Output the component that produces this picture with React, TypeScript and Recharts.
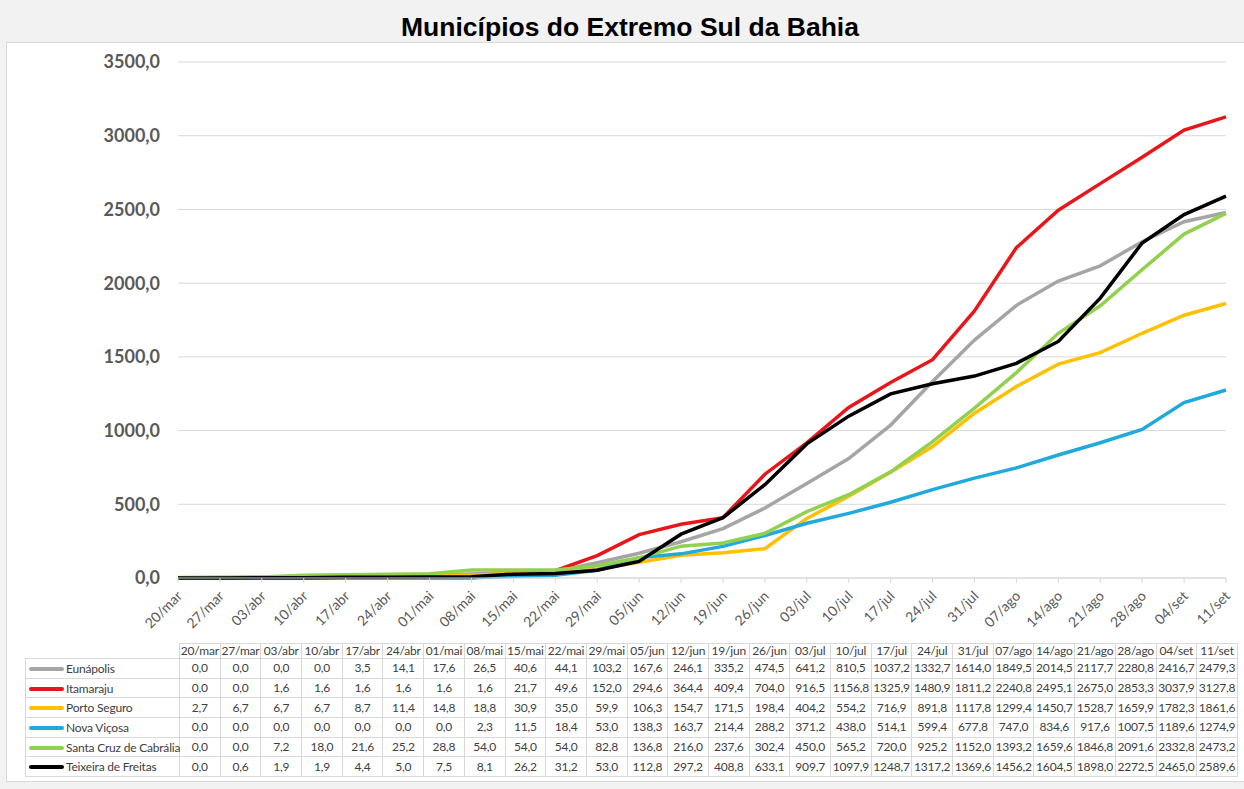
import { LineChart, Line, XAxis, YAxis, CartesianGrid } from 'recharts';

const dates = ['20/mar', '27/mar', '03/abr', '10/abr', '17/abr', '24/abr', '01/mai', '08/mai', '15/mai', '22/mai', '29/mai', '05/jun', '12/jun', '19/jun', '26/jun', '03/jul', '10/jul', '17/jul', '24/jul', '31/jul', '07/ago', '14/ago', '21/ago', '28/ago', '04/set', '11/set'];

const eunapolis = [0, 0, 0, 0, 3.5, 14.1, 17.6, 26.5, 40.6, 44.1, 103.2, 167.6, 246.1, 335.2, 474.5, 641.2, 810.5, 1037.2, 1332.7, 1614.0, 1849.5, 2014.5, 2117.7, 2280.8, 2416.7, 2479.3];
const itamaraju = [0, 0, 1.6, 1.6, 1.6, 1.6, 1.6, 1.6, 21.7, 49.6, 152.0, 294.6, 364.4, 409.4, 704.0, 916.5, 1156.8, 1325.9, 1480.9, 1811.2, 2240.8, 2495.1, 2675.0, 2853.3, 3037.9, 3127.8];
const portoSeguro = [2.7, 6.7, 6.7, 6.7, 8.7, 11.4, 14.8, 18.8, 30.9, 35.0, 59.9, 106.3, 154.7, 171.5, 198.4, 404.2, 554.2, 716.9, 891.8, 1117.8, 1299.4, 1450.7, 1528.7, 1659.9, 1782.3, 1861.6];
const novaVicosa = [0, 0, 0, 0, 0, 0, 0, 2.3, 11.5, 18.4, 53.0, 138.3, 163.7, 214.4, 288.2, 371.2, 438.0, 514.1, 599.4, 677.8, 747.0, 834.6, 917.6, 1007.5, 1189.6, 1274.9];
const santaCruz = [0, 0, 7.2, 18.0, 21.6, 25.2, 28.8, 54.0, 54.0, 54.0, 82.8, 136.8, 216.0, 237.6, 302.4, 450.0, 565.2, 720.0, 925.2, 1152.0, 1393.2, 1659.6, 1846.8, 2091.6, 2332.8, 2473.2];
const teixeira = [0, 0.6, 1.9, 1.9, 4.4, 5.0, 7.5, 8.1, 26.2, 31.2, 53.0, 112.8, 297.2, 408.8, 633.1, 909.7, 1097.9, 1248.7, 1317.2, 1369.6, 1456.2, 1604.5, 1898.0, 2272.5, 2465.0, 2589.6];

const yTicks = [0, 500, 1000, 1500, 2000, 2500, 3000, 3500];

const series = [
  { key: 'eun', name: 'Eunápolis', values: eunapolis, color: '#a5a5a5' },
  { key: 'ita', name: 'Itamaraju', values: itamaraju, color: '#e8161b' },
  { key: 'por', name: 'Porto Seguro', values: portoSeguro, color: '#ffc000' },
  { key: 'nov', name: 'Nova Viçosa', values: novaVicosa, color: '#1fa9dc' },
  { key: 'san', name: 'Santa Cruz de Cabrália', values: santaCruz, color: '#92d050' },
  { key: 'tei', name: 'Teixeira de Freitas', values: teixeira, color: '#000000' },
];

const data = dates.map((d, i) => {
  const row: Record<string, string | number> = { date: d };
  series.forEach((s) => { row[s.key] = s.values[i]; });
  return row;
});

const fmt = (v: number) => v.toFixed(1).replace('.', ',');

const FONT = 'Lato, "Open Sans", sans-serif';

const XTick = ({ x, y, payload }: any) => (
  <g transform={`translate(${x + 5},${y + 12})`}>
    <text x={0} y={0} textAnchor="end" transform="rotate(-45)" fontSize={14} fill="#595959" fontFamily={FONT}>
      {payload.value}
    </text>
  </g>
);

const cellBorder = '1px solid #d9d9d9';
const COLW = 40.7;

const App = () => {
  return (
    <div style={{ position: 'absolute', left: 0, top: 0, width: 1244, height: 789, background: '#f2f2f2', overflow: 'hidden' }}>
      <div style={{ position: 'absolute', left: 0, top: 11, width: 1260, textAlign: 'center', fontFamily: '"Liberation Sans", Arial, sans-serif', fontWeight: 'bold', fontSize: 26.5, lineHeight: '32px', color: '#000' }}>
        Municípios do Extremo Sul da Bahia
      </div>
      <div style={{ position: 'absolute', left: 6, top: 42, width: 1260, height: 738, background: '#fff', border: '1px solid #d9d9d9' }} />

      <div style={{ position: 'absolute', left: 0, top: 0 }}>
        <LineChart width={1244} height={650} data={data} margin={{ top: 62, right: 18, left: 88, bottom: 2 }}>
          <CartesianGrid horizontal vertical={false} stroke="#d9d9d9" />
          <XAxis
            dataKey="date"
            interval={0}
            height={70}
            tick={<XTick />}
            axisLine={{ stroke: '#d9d9d9' }}
            tickLine={{ stroke: '#d9d9d9' }}
            tickSize={5}
          />
          <YAxis
            domain={[0, 3500]}
            ticks={yTicks}
            width={90}
            axisLine={false}
            tickLine={false}
            tickMargin={12}
            tickFormatter={fmt}
            tick={{ fontSize: 18, fontWeight: 'bold', fill: '#595959', fontFamily: FONT }}
          />
          {series.map((s) => (
            <Line
              key={s.key}
              type="linear"
              dataKey={s.key}
              name={s.name}
              stroke={s.color}
              strokeWidth={3.5}
              dot={false}
              isAnimationActive={false}
            />
          ))}
        </LineChart>
      </div>

      <table
        style={{
          position: 'absolute', left: 25, top: 643, borderCollapse: 'collapse', tableLayout: 'fixed',
          width: 154 + COLW * dates.length, fontFamily: FONT, fontSize: 12, color: '#404040', letterSpacing: -0.2,
        }}
      >
        <colgroup>
          <col style={{ width: 154 }} />
          {dates.map((d) => <col key={d} style={{ width: COLW }} />)}
        </colgroup>
        <thead>
          <tr style={{ height: 15 }}>
            <th style={{ padding: 0 }} />
            {dates.map((d) => (
              <th key={d} style={{ border: cellBorder, padding: 0, fontWeight: 'normal', textAlign: 'center', whiteSpace: 'nowrap', lineHeight: '14px' }}>{d}</th>
            ))}
          </tr>
        </thead>
        <tbody>
          {series.map((s) => (
            <tr key={s.key} style={{ height: 19.7 }}>
              <td style={{ border: cellBorder, padding: 0, whiteSpace: 'nowrap', lineHeight: '14px' }}>
                <span style={{ display: 'inline-block', width: 35, height: 4, background: s.color, borderRadius: 2, verticalAlign: 'middle', marginLeft: 3, marginRight: 2 }} />
                <span style={{ verticalAlign: 'middle' }}>{s.name}</span>
              </td>
              {s.values.map((v, i) => (
                <td key={i} style={{ border: cellBorder, padding: 0, textAlign: 'center', whiteSpace: 'nowrap', lineHeight: '14px' }}>{fmt(v)}</td>
              ))}
            </tr>
          ))}
        </tbody>
      </table>
    </div>
  );
};

export default App;
